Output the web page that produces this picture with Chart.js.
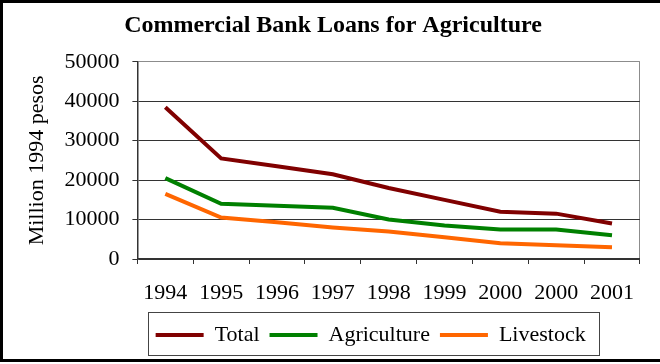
<!DOCTYPE html>
<html>
<head>
<meta charset="utf-8">
<title>Commercial Bank Loans for Agriculture</title>
<script src="https://cdn.jsdelivr.net/npm/chart.js@4.4.1/dist/chart.umd.min.js"></script>
<style>
    html, body { margin: 0; padding: 0; background: #fff; overflow: hidden; }
    #wrap { position: relative; width: 660px; height: 364px; }
    #frame {
        position: absolute; left: 0; top: 0; width: 700px; height: 362px;
        box-sizing: border-box; border: 3px solid #000; border-right: none;
        pointer-events: none;
    }
</style>
</head>
<body>
<div id="wrap">
    <canvas id="loansChart" width="660" height="364"></canvas>
    <div id="frame"></div>
</div>
<script>
const years = ['1994', '1995', '1996', '1997', '1998', '1999', '2000', '2000', '2001'];
const totalLoans = [38500, 25500, 23500, 21500, 18000, 15000, 12000, 11500, 9000];
const agricultureLoans = [20500, 14000, 13500, 13000, 10000, 8500, 7500, 7500, 6000];
const livestockLoans = [16500, 10500, 9300, 8000, 7000, 5500, 4000, 3500, 3000];
const yTicks = [0, 10000, 20000, 30000, 40000, 50000];

const serif = 'Liberation Serif, Times New Roman, serif';
const axisDark = '#333333';
const frameGray = '#8c8c8c';

// legend sits a little left of centre and slightly higher, with a thin box round it
const legendFrame = {
    id: 'legendFrame',
    afterLayout(chart) {
        const lg = chart.legend;
        lg.left -= 18;
        lg.right -= 18;
        lg.top -= 8;
        lg.bottom -= 8;
    },
    afterDraw(chart) {
        const boxes = chart.legend.legendHitBoxes;
        if (!boxes || !boxes.length) return;
        const first = boxes[0];
        const last = boxes[boxes.length - 1];
        const ctx = chart.ctx;
        const left = Math.round(first.left - 8) + 0.5;
        const right = Math.round(last.left + last.width + 13) + 0.5;
        const top = Math.round(first.top - 12) + 0.5;
        const bottom = Math.round(first.top + first.height + 9) + 0.5;
        ctx.save();
        ctx.strokeStyle = '#444';
        ctx.lineWidth = 1;
        ctx.strokeRect(left, top, right - left, bottom - top);
        ctx.restore();
    }
};

const ctx = document.getElementById('loansChart').getContext('2d');
const chart = new Chart(ctx, {
    type: 'line',
    data: {
        labels: years,
        datasets: [
            { label: 'Total', data: totalLoans, borderColor: '#800000', backgroundColor: '#800000', borderWidth: 4 },
            { label: 'Agriculture', data: agricultureLoans, borderColor: '#008000', backgroundColor: '#008000', borderWidth: 4 },
            { label: 'Livestock', data: livestockLoans, borderColor: '#ff6600', backgroundColor: '#ff6600', borderWidth: 4 },
        ],
    },
    options: {
        responsive: false,
        animation: false,
        devicePixelRatio: 1,
        layout: { padding: { left: 24, right: 18, top: 0, bottom: 0 } },
        elements: {
            line: { borderWidth: 4, tension: 0, fill: false },
            point: { radius: 0, hoverRadius: 0 },
        },
        scales: {
            x: {
                offset: true,
                grid: {
                    offset: true,
                    // only the right-hand edge of the plot gets a line
                    color: (c) => (c.index === undefined ? frameGray : 'rgba(0,0,0,0)'),
                    tickColor: axisDark,
                    tickLength: 5,
                    lineWidth: 1,
                },
                border: { color: axisDark, width: 1.5 },
                ticks: {
                    color: '#000',
                    font: { family: serif, size: 22, lineHeight: '8px' },
                    padding: 25,
                    maxRotation: 0,
                    autoSkip: false,
                },
            },
            y: {
                min: 0,
                max: 50000,
                afterBuildTicks: (scale) => {
                    scale.ticks = yTicks.map((v) => ({ value: v }));
                },
                grid: {
                    color: (c) => (c.tick && c.tick.value === 50000 ? frameGray : axisDark),
                    tickColor: axisDark,
                    tickLength: 5,
                    lineWidth: 1,
                },
                border: { color: axisDark, width: 1.5 },
                ticks: {
                    color: '#000',
                    font: { family: serif, size: 22 },
                    padding: 13,
                    callback: (v) => String(v),
                },
                title: {
                    display: true,
                    text: 'Million 1994 pesos',
                    color: '#000',
                    font: { family: serif, size: 22 },
                    padding: { top: 0, bottom: 1 },
                },
            },
        },
        plugins: {
            title: {
                display: true,
                text: 'Commercial Bank Loans for Agriculture',
                color: '#000',
                font: { family: serif, size: 24, weight: 'bold' },
                padding: { top: 11, bottom: 22 },
            },
            legend: {
                position: 'bottom',
                fullSize: false,
                labels: {
                    color: '#000',
                    font: { family: serif, size: 22 },
                    usePointStyle: true,
                    pointStyle: 'line',
                    pointStyleWidth: 48,
                    padding: 10,
                },
            },
            tooltip: { enabled: false },
        },
    },
    plugins: [legendFrame],
});
</script>
</body>
</html>
